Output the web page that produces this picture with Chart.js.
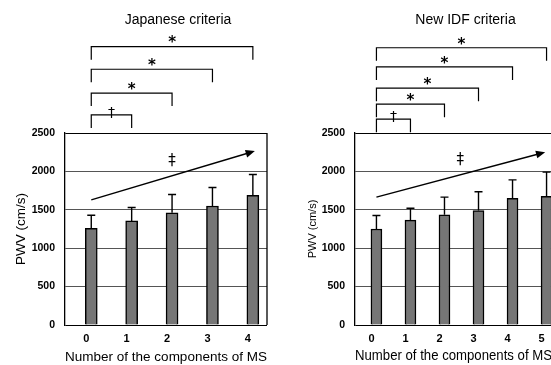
<!DOCTYPE html>
<html>
<head>
<meta charset="utf-8">
<script src="https://cdn.jsdelivr.net/npm/chart.js@4/dist/chart.umd.min.js"></script>
<style>
  body { margin: 0; width: 551px; height: 365px; overflow: hidden; background: #fff; position: relative; }
  .panel { position: absolute; top: 0; }
</style>
</head>
<body>
<canvas id="jp-chart" class="panel" width="356" height="365" style="left:0px"></canvas>
<canvas id="idf-chart" class="panel" width="358" height="365" style="left:290px"></canvas>
<script>
/*************************  Data  *************************/
// Japanese criteria
var jpCategories = [0, 1, 2, 3, 4];
var jpPwv = [1260, 1355, 1460, 1550, 1690];
var jpSd = [170, 175, 240, 240, 270];
var jpBracketTo = [1, 2, 3, 4];
var jpBracketY = [2735, 3020, 3330, 3625];
var jpBracketMark = ['\u2020', '*', '*', '*'];
var jpTrendX = [0, 4.05];
var jpTrendY = [1630, 2265];
var jpTrendMarkAt = [2, 2130];

// New IDF criteria
var idfCategories = [0, 1, 2, 3, 4, 5];
var idfPwv = [1250, 1365, 1435, 1490, 1650, 1675];
var idfSd = [175, 155, 230, 245, 240, 315];
var idfBracketTo = [1, 2, 3, 4, 5];
var idfBracketY = [2680, 2875, 3085, 3360, 3610];
var idfBracketMark = ['\u2020', '*', '*', '*', '*'];
var idfTrendX = [0, 4.96];
var idfTrendY = [1665, 2250];
var idfTrendMarkAt = [2.46, 2145];

var yTicks = [0, 500, 1000, 1500, 2000, 2500];
var bracketDrop = 170;

/*************************  Plugin: title, error bars, brackets, trend  *************************/
var sigNotes = {
    id: 'sigNotes',
    afterDatasetsDraw: function(chart, args, o) {
        var ctx = chart.ctx, ys = chart.scales.y;
        var meta = chart.getDatasetMeta(0);
        var data = chart.data.datasets[0].data;
        ctx.save();
        ctx.strokeStyle = '#000';
        ctx.lineWidth = 1.4;
        meta.data.forEach(function(bar, i) {
            var top = ys.getPixelForValue(data[i].y + o.sd[i]);
            ctx.beginPath();
            ctx.moveTo(bar.x, bar.y);
            ctx.lineTo(bar.x, top);
            ctx.moveTo(bar.x - 4, top);
            ctx.lineTo(bar.x + 4, top);
            ctx.stroke();
        });
        ctx.restore();
    },
    afterDraw: function(chart, args, o) {
        var ctx = chart.ctx, xs = chart.scales.x, ys = chart.scales.y;
        var area = chart.chartArea;
        ctx.save();
        ctx.strokeStyle = '#000';
        ctx.fillStyle = '#000';
        // panel title, a little right of the plot centre as in the figure
        ctx.font = o.titleFont;
        ctx.textAlign = 'center';
        ctx.textBaseline = 'middle';
        ctx.fillText(o.title, (area.left + area.right) / 2 + 12, 20);
        // right side of the frame
        ctx.lineWidth = 1.3;
        ctx.beginPath();
        ctx.moveTo(area.right, ys.getPixelForValue(0));
        ctx.lineTo(area.right, ys.getPixelForValue(2500));
        ctx.stroke();
        // brackets
        var x0 = xs.getPixelForValue(0);
        ctx.lineWidth = 1.2;
        for (var i = 0; i < o.bracketTo.length; i++) {
            var x1 = xs.getPixelForValue(o.bracketTo[i]);
            var y = ys.getPixelForValue(o.bracketY[i]);
            var yb = ys.getPixelForValue(o.bracketY[i] - bracketDrop);
            ctx.beginPath();
            ctx.moveTo(x0, yb);
            ctx.lineTo(x0, y);
            ctx.lineTo(x1, y);
            ctx.lineTo(x1, yb);
            ctx.stroke();
            var mx = (x0 + x1) / 2;
            if (o.bracketMark[i] == '*') {
                ctx.font = 'bold 15px "DejaVu Sans"';
                ctx.textBaseline = 'middle';
                ctx.fillText('*', mx, y - 3);
            } else {
                ctx.font = '14px "DejaVu Sans"';
                ctx.textBaseline = 'alphabetic';
                ctx.fillText(o.bracketMark[i], mx, y + 2);
            }
        }
        // trend arrow
        var p0x = xs.getPixelForValue(o.trendX[0]), p0y = ys.getPixelForValue(o.trendY[0]);
        var p1x = xs.getPixelForValue(o.trendX[1]), p1y = ys.getPixelForValue(o.trendY[1]);
        var a = Math.atan2(p1y - p0y, p1x - p0x);
        ctx.lineWidth = 1.4;
        ctx.beginPath();
        ctx.moveTo(p0x, p0y);
        ctx.lineTo(p1x - 5 * Math.cos(a), p1y - 5 * Math.sin(a));
        ctx.stroke();
        ctx.beginPath();
        ctx.moveTo(p1x, p1y);
        ctx.lineTo(p1x - 10 * Math.cos(a - 0.4), p1y - 10 * Math.sin(a - 0.4));
        ctx.lineTo(p1x - 10 * Math.cos(a + 0.4), p1y - 10 * Math.sin(a + 0.4));
        ctx.closePath();
        ctx.fill();
        ctx.font = '15px "DejaVu Sans"';
        ctx.textBaseline = 'middle';
        ctx.fillText('\u2021', xs.getPixelForValue(o.trendMarkAt[0]), ys.getPixelForValue(o.trendMarkAt[1]));
        ctx.restore();
    }
};

/*************************  Build one panel  *************************/
function makePanel(canvasId, cats, pwv, notes, xMin, xMax, barWidth, padRight, xTitleSize, yTitleSize, yTitlePad) {
    var points = [];
    for (i = 0; i < cats.length; i++) {
        points.push({x: cats[i], y: pwv[i]});
    }
    return new Chart(document.getElementById(canvasId), {
        type: 'bar',
        data: {
            datasets: [{
                data: points,
                backgroundColor: '#767676',
                borderColor: '#000',
                borderWidth: 1.5,
                barThickness: barWidth
            }]
        },
        options: {
            responsive: false,
            animation: false,
            layout: {padding: {left: 0, right: padRight, top: 133, bottom: 0}},
            plugins: {
                legend: {display: false},
                tooltip: {enabled: false},
                title: {display: false},
                sigNotes: notes
            },
            scales: {
                x: {
                    type: 'linear',
                    offset: false,
                    min: xMin,
                    max: xMax,
                    afterBuildTicks: function(s) { s.ticks = cats.map(function(v) { return {value: v}; }); },
                    afterFit: function(s) { s.height = 40; },
                    grid: {display: false, drawTicks: false},
                    border: {display: false},
                    ticks: {
                        color: '#000',
                        padding: 7,
                        labelOffset: -5,
                        font: {family: 'Liberation Sans', size: 11, weight: 'bold'}
                    },
                    title: {
                        display: true,
                        text: 'Number of the components of MS',
                        color: '#000',
                        align: canvasId == 'idf-chart' ? 'end' : 'center',
                        font: {family: 'Liberation Sans', size: xTitleSize},
                        padding: {top: 5, bottom: 0}
                    }
                },
                y: {
                    min: 0,
                    max: 2500,
                    afterBuildTicks: function(s) { s.ticks = yTicks.map(function(v) { return {value: v}; }); },
                    afterFit: function(s) { s.width = 65; },
                    grid: {
                        drawTicks: false,
                        lineWidth: 1,
                        color: function(c) { return (c.tick.value == 0 || c.tick.value == 2500) ? '#000' : '#555'; }
                    },
                    border: {display: true, color: '#000', width: 1.3},
                    ticks: {
                        color: '#000',
                        padding: 10,
                        callback: function(v) { return String(v); },
                        font: {family: 'Liberation Sans', size: 10.5, weight: 'bold'}
                    },
                    title: {
                        display: true,
                        text: 'PWV (cm/s)',
                        color: '#000',
                        font: {family: 'Liberation Sans', size: yTitleSize},
                        padding: {top: yTitlePad, bottom: 0}
                    }
                }
            }
        },
        plugins: [sigNotes]
    });
}

makePanel('jp-chart', jpCategories, jpPwv, {
    title: 'Japanese criteria', titleFont: '14px "Liberation Sans"',
    sd: jpSd, bracketTo: jpBracketTo, bracketY: jpBracketY, bracketMark: jpBracketMark,
    trendX: jpTrendX, trendY: jpTrendY, trendMarkAt: jpTrendMarkAt
}, -0.65, 4.35, 12, 89, 13.5, 13.5, 13);

makePanel('idf-chart', idfCategories, idfPwv, {
    title: 'New IDF criteria', titleFont: '14px "Liberation Sans"',
    sd: idfSd, bracketTo: idfBracketTo, bracketY: idfBracketY, bracketMark: idfBracketMark,
    trendX: idfTrendX, trendY: idfTrendY, trendMarkAt: idfTrendMarkAt
}, -0.63, 5.16, 11, 96, 14.8, 11, 16);
</script>
</body>
</html>
